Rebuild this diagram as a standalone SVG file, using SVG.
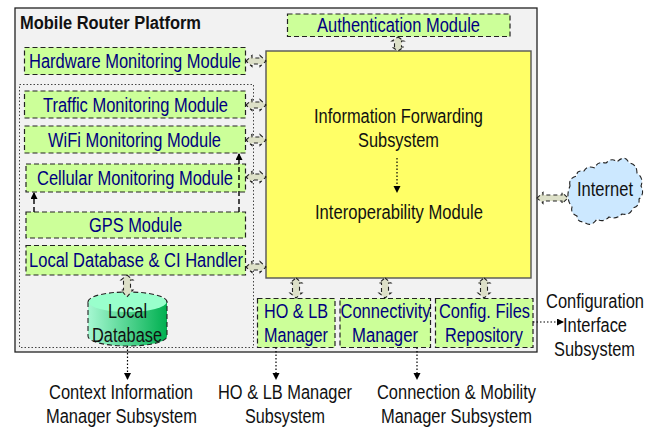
<svg xmlns="http://www.w3.org/2000/svg" width="656" height="428" viewBox="0 0 656 428">
<style>
text{font-family:"Liberation Sans",Arial,sans-serif;font-size:20px;fill:#111}
.m{fill:#000080}
.box{fill:#ccff99;stroke:#222;stroke-width:1.2;stroke-dasharray:5 3}
.blk{fill:#dde0c8;stroke:#222;stroke-width:1.1;stroke-dasharray:4 3}
.dot{fill:none;stroke:#000;stroke-width:1.2;stroke-dasharray:1.5 2}
.dash{fill:none;stroke:#000;stroke-width:1.4;stroke-dasharray:5 3}
</style>
<defs>
<marker id="a" markerWidth="8" markerHeight="8" refX="6" refY="3.5" orient="auto" markerUnits="userSpaceOnUse"><path d="M0 0L7 3.5L0 7z" fill="#000"/></marker>
<linearGradient id="g" x1="0" x2="1" y1="0" y2="0"><stop offset="0" stop-color="#a6f8d2"/><stop offset="1" stop-color="#00b050"/></linearGradient>
</defs>
<rect id="platform" x="15" y="8" width="522" height="344" fill="#f2f2f2" stroke="#222" stroke-width="1.3"/>
<rect id="cim-group" x="19.500" y="84.500" width="234" height="263" fill="none" stroke="#444" stroke-width="1" stroke-dasharray="1.500 2"/>
<text x="20" y="29" textLength="181" lengthAdjust="spacingAndGlyphs" font-weight="bold" style="font-size:18px">Mobile Router Platform</text>

<g id="forwarding"><rect x="266" y="51" width="265" height="227" fill="#ffff66" stroke="#555" stroke-width="1.400"/>
<text x="314" y="123" textLength="169" lengthAdjust="spacingAndGlyphs">Information Forwarding</text>
<text x="358" y="147" textLength="81" lengthAdjust="spacingAndGlyphs">Subsystem</text>
<text x="315" y="219" textLength="168" lengthAdjust="spacingAndGlyphs">Interoperability Module</text></g>

<g id="auth"><rect class="box" x="287.500" y="14" width="222.500" height="22.500"/><text class="m" x="317" y="31.500" textLength="163" lengthAdjust="spacingAndGlyphs">Authentication Module</text></g>
<g id="hardware"><rect class="box" x="24.500" y="47.500" width="221" height="27"/><text class="m" x="29" y="67.500" textLength="212" lengthAdjust="spacingAndGlyphs">Hardware Monitoring Module</text></g>
<g id="traffic"><rect class="box" x="24.500" y="91" width="221" height="27"/><text class="m" x="43" y="111.500" textLength="185" lengthAdjust="spacingAndGlyphs">Traffic Monitoring Module</text></g>
<g id="wifi"><rect class="box" x="24.500" y="126" width="221" height="27"/><text class="m" x="48" y="146.500" textLength="173" lengthAdjust="spacingAndGlyphs">WiFi Monitoring Module</text></g>
<g id="cellular"><rect class="box" x="26" y="164" width="219.500" height="28"/><text class="m" x="37" y="184.500" textLength="196" lengthAdjust="spacingAndGlyphs">Cellular Monitoring Module</text></g>
<g id="gps"><rect class="box" x="26" y="212" width="219.500" height="26"/><text class="m" x="89" y="231.500" textLength="93" lengthAdjust="spacingAndGlyphs">GPS Module</text></g>
<g id="handler"><rect class="box" x="26" y="245.500" width="219.500" height="29.500"/><text class="m" x="29" y="266.500" textLength="214" lengthAdjust="spacingAndGlyphs">Local Database &amp; CI Handler</text></g>

<g id="local-db">
<path d="M88 302V336C88 342 106 346 127.500 346S167 342 167 336V302z" fill="url(#g)" stroke="#222" stroke-width="1.100" stroke-dasharray="5 3"/>
<ellipse cx="127.500" cy="302" rx="39" ry="10" fill="#99ffcc"/>
<path d="M88 302C88 296 106 292 127.500 292S167 296 167 302" fill="none" stroke="#222" stroke-width="1.100" stroke-dasharray="5 3"/>
<text x="108" y="318" textLength="39" lengthAdjust="spacingAndGlyphs">Local</text>
<text x="92" y="342" textLength="70" lengthAdjust="spacingAndGlyphs">Database</text></g>

<g id="ho-lb"><rect class="box" x="257.500" y="298.500" width="77.500" height="49"/><text class="m" x="264" y="317.500" textLength="64" lengthAdjust="spacingAndGlyphs">HO &amp; LB</text><text class="m" x="264" y="341.500" textLength="64" lengthAdjust="spacingAndGlyphs">Manager</text></g>
<g id="connectivity"><rect class="box" x="340" y="298.500" width="90.500" height="49"/><text class="m" x="340.500" y="317.500" textLength="90" lengthAdjust="spacingAndGlyphs">Connectivity</text><text class="m" x="352" y="341.500" textLength="66" lengthAdjust="spacingAndGlyphs">Manager</text></g>
<g id="config"><rect class="box" x="435.500" y="298.500" width="97.500" height="49"/><text class="m" x="439" y="317.500" textLength="91" lengthAdjust="spacingAndGlyphs">Config. Files</text><text class="m" x="445" y="341.500" textLength="78" lengthAdjust="spacingAndGlyphs">Repository</text></g>

<g id="internet">
<path d="M570 186Q568 178 577 176Q576 170 584 171Q587 165 595 168Q597 161 606 163Q612 157 617 162Q625 154 629 163Q637 164 637 173Q644 178 641 186Q645 194 639 199Q640 206 633 208Q630 216 622 214Q616 220 609 217Q603 223 597 219Q591 228 584 222Q577 222 577 216Q570 213 572 207Q565 198 570 186z" fill="#cce8ff" stroke="#222" stroke-width="1.100" stroke-dasharray="5 3"/>
<text x="577" y="196" textLength="56" lengthAdjust="spacingAndGlyphs">Internet</text></g>

<g id="connectors">
<path class="blk" d="M246 61L252 55.500V58H260V55.500L266 61L260 66.500V64H252V66.500z"/>
<path class="blk" d="M246 105L252 99.500V102H260V99.500L266 105L260 110.500V108H252V110.500z"/>
<path class="blk" d="M246 140L252 134.500V137H260V134.500L266 140L260 145.500V143H252V145.500z"/>
<path class="blk" d="M246 177L252 171.500V174H260V171.500L266 177L260 182.500V180H252V182.500z"/>
<path class="blk" d="M246 267L252 261.500V264H260V261.500L266 267L260 272.500V270H252V272.500z"/>
<path class="blk" d="M537 198L543 192.500V195H562V192.500L568 198L562 203.500V201H543V203.500z"/>
<path class="blk" d="M398 37L404 41H401.500V47H404L398 51L392 47H394.500V41H392z"/>
<path class="blk" d="M296 278L302 283H299.500V293H302L296 298L290 293H292.500V283H290z"/>
<path class="blk" d="M385 278L391 283H388.500V293H391L385 298L379 293H381.500V283H379z"/>
<path class="blk" d="M484 278L490 283H487.500V293H490L484 298L478 293H480.500V283H478z"/>
<path class="blk" d="M127 275L133 280H130.500V290H133L127 297L121 290H123.500V280H121z"/>
<path class="dash" marker-end="url(#a)" d="M34 212V193"/>
<path class="dash" marker-end="url(#a)" d="M239 212V154"/>
<path class="dot" marker-end="url(#a)" d="M397 158V192"/>
<path class="dot" marker-end="url(#a)" d="M127.500 346V379"/>
<path class="dot" marker-end="url(#a)" d="M276 347.500V379"/>
<path class="dot" marker-end="url(#a)" d="M417 347.500V379"/>
<path class="dot" marker-end="url(#a)" d="M533 322H563"/>
</g>

<g id="labels">
<text x="49" y="398.500" textLength="144" lengthAdjust="spacingAndGlyphs">Context Information</text>
<text x="46" y="422.500" textLength="151" lengthAdjust="spacingAndGlyphs">Manager Subsystem</text>
<text x="218" y="398.500" textLength="134" lengthAdjust="spacingAndGlyphs">HO &amp; LB Manager</text>
<text x="245" y="422.500" textLength="80" lengthAdjust="spacingAndGlyphs">Subsystem</text>
<text x="377" y="398.500" textLength="159" lengthAdjust="spacingAndGlyphs">Connection &amp; Mobility</text>
<text x="381" y="422.500" textLength="151" lengthAdjust="spacingAndGlyphs">Manager Subsystem</text>
<text x="546" y="307.500" textLength="98" lengthAdjust="spacingAndGlyphs">Configuration</text>
<text x="563" y="331.500" textLength="64" lengthAdjust="spacingAndGlyphs">Interface</text>
<text x="554" y="355.500" textLength="81" lengthAdjust="spacingAndGlyphs">Subsystem</text>
</g>
</svg>
